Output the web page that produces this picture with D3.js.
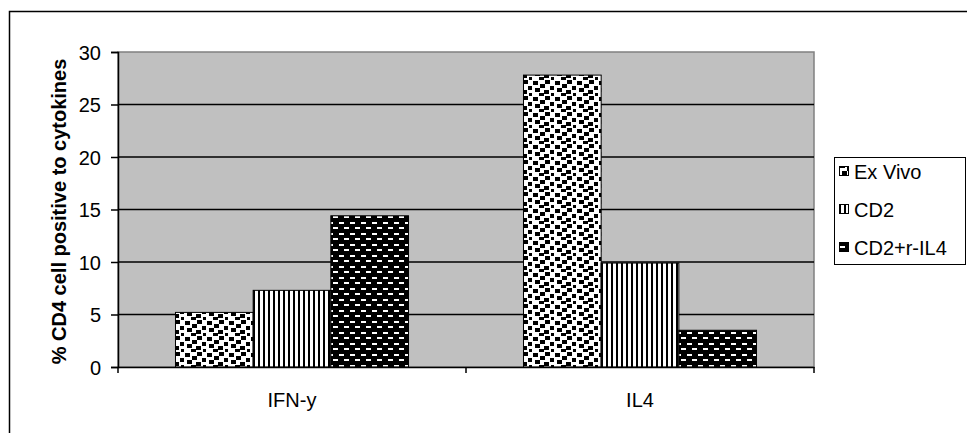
<!DOCTYPE html>
<html>
<head>
<meta charset="utf-8">
<script src="https://cdn.jsdelivr.net/npm/d3@7"></script>
<style>
  body { margin: 0; background: #fff; }
  svg { display: block; font-family: "Liberation Sans", Arial, sans-serif; }
</style>
</head>
<body>
<svg id="area" width="967" height="433"></svg>
<script>
const categories = ['IFN-y', 'IL4'];
const seriesNames = ['Ex Vivo', 'CD2', 'CD2+r-IL4'];
const exVivo = [5.2, 27.8];
const cd2 = [7.3, 9.9];
const cd2rIL4 = [14.4, 3.5];
const yTicks = [0, 5, 10, 15, 20, 25, 30];

const seriesValues = [exVivo, cd2, cd2rIL4];
const rows = categories.map((c, i) => ({
  cat: c,
  vals: seriesNames.map((s, j) => ({ key: s, idx: j, value: seriesValues[j][i] })),
}));

const svg = d3.select('#area');
const margin = { left: 118, top: 52, right: 814, bottom: 367 };
const FONT = '"Liberation Sans", Arial, sans-serif';

// outer frame
svg.append('rect')
  .attr('x', 9.5).attr('y', 11.5)
  .attr('width', 970).attr('height', 440)
  .attr('fill', 'none').attr('stroke', '#000').attr('stroke-width', 1.5);

// patterns
const defs = svg.append('defs');

// large confetti
const p0 = defs.append('pattern').attr('id', 'pat0')
  .attr('patternUnits', 'userSpaceOnUse').attr('width', 22).attr('height', 16);
p0.append('rect').attr('width', 22).attr('height', 16).attr('fill', '#fff');
[[1, 1], [13, 0], [8, 4], [18, 6], [3, 8], [12, 10], [7, 13], [19, 13]].forEach(([x, y]) => {
  p0.append('rect').attr('x', x).attr('y', y).attr('width', 5).attr('height', 4).attr('fill', '#000');
});

// vertical stripes
const p1 = defs.append('pattern').attr('id', 'pat1')
  .attr('patternUnits', 'userSpaceOnUse').attr('width', 5).attr('height', 5);
p1.append('rect').attr('width', 5).attr('height', 5).attr('fill', '#fff');
p1.append('rect').attr('x', 0).attr('width', 2).attr('height', 5).attr('fill', '#000');

// dark with white dashes
const p2 = defs.append('pattern').attr('id', 'pat2')
  .attr('patternUnits', 'userSpaceOnUse').attr('width', 11).attr('height', 11);
p2.append('rect').attr('width', 11).attr('height', 11).attr('fill', '#000');
p2.append('rect').attr('x', 1).attr('y', 2).attr('width', 5).attr('height', 2).attr('fill', '#fff');
p2.append('rect').attr('x', 6).attr('y', 7).attr('width', 5).attr('height', 2).attr('fill', '#fff');

const fills = ['url(#pat0)', 'url(#pat1)', 'url(#pat2)'];

// scales
const x0 = d3.scaleBand().domain(categories).range([margin.left, margin.right]);
const x1 = d3.scaleBand().domain(seriesNames).range([0, x0.bandwidth()]).paddingOuter(0.74);
const y = d3.scaleLinear().domain([0, 30]).range([margin.bottom, margin.top]);

// plot background
svg.append('rect')
  .attr('x', margin.left).attr('y', margin.top)
  .attr('width', margin.right - margin.left).attr('height', margin.bottom - margin.top)
  .attr('fill', '#c0c0c0').attr('stroke', '#808080').attr('stroke-width', 1.5);

// gridlines
svg.append('g')
  .selectAll('line')
  .data(yTicks.filter((t) => t > 0 && t < 30))
  .join('line')
  .attr('x1', margin.left).attr('x2', margin.right)
  .attr('y1', (d) => y(d)).attr('y2', (d) => y(d))
  .attr('stroke', '#000').attr('stroke-width', 1.5);

// bars
svg.append('g')
  .selectAll('g')
  .data(rows)
  .join('g')
  .attr('transform', (d) => `translate(${x0(d.cat)},0)`)
  .selectAll('rect')
  .data((d) => d.vals)
  .join('rect')
  .attr('x', (d) => x1(d.key))
  .attr('y', (d) => y(d.value))
  .attr('width', x1.bandwidth())
  .attr('height', (d) => y(0) - y(d.value))
  .attr('fill', (d) => fills[d.idx])
  .attr('stroke', '#000').attr('stroke-width', 1);

// y axis
const yAxis = svg.append('g')
  .attr('transform', `translate(${margin.left},0)`)
  .call(d3.axisLeft(y).tickValues(yTicks).tickSize(7).tickPadding(10));
yAxis.select('.domain').attr('stroke-width', 1.5);
yAxis.selectAll('.tick line').attr('stroke-width', 1.5);
yAxis.selectAll('text').attr('font-size', 20).attr('font-family', FONT).attr('dy', '0.35em');

// x axis
const xAxis = svg.append('g')
  .attr('transform', `translate(0,${margin.bottom})`)
  .call(d3.axisBottom(x0).tickSize(0).tickPadding(26));
xAxis.select('.domain').attr('stroke-width', 1.5);
xAxis.selectAll('text').attr('font-size', 20).attr('font-family', FONT);
svg.append('g')
  .selectAll('line')
  .data([margin.left, x0('IL4'), margin.right])
  .join('line')
  .attr('x1', (d) => d).attr('x2', (d) => d)
  .attr('y1', margin.bottom).attr('y2', margin.bottom + 6)
  .attr('stroke', '#000').attr('stroke-width', 1.5);

// y title
svg.append('text')
  .attr('transform', `translate(66,${(margin.top + margin.bottom) / 2 + 2}) rotate(-90)`)
  .attr('text-anchor', 'middle')
  .attr('font-size', 20).attr('font-weight', 'bold')
  .text('% CD4 cell positive to cytokines');

// legend
const legend = svg.append('g');
legend.append('rect')
  .attr('x', 834.5).attr('y', 157.5).attr('width', 131).attr('height', 107)
  .attr('fill', '#fff').attr('stroke', '#000').attr('stroke-width', 1);
const item = legend.selectAll('g.item')
  .data(seriesNames)
  .join('g')
  .attr('class', 'item')
  .attr('transform', (d, i) => `translate(839,${179 + i * 38})`);
item.append('rect')
  .attr('x', 0.5).attr('y', -12.5).attr('width', 9).attr('height', 9)
  .attr('fill', (d, i) => fills[i]).attr('stroke', '#000').attr('stroke-width', 1);
item.append('text')
  .attr('x', 15).attr('y', 0)
  .attr('font-size', 20)
  .text((d) => d);
</script>
</body>
</html>
